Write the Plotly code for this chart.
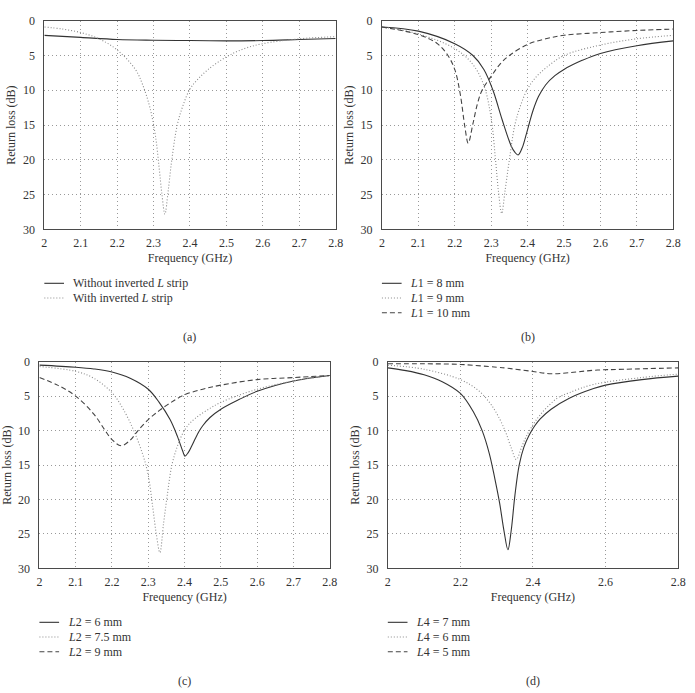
import plotly.graph_objects as go

# ---------- data ----------
# (a)
a_x_solid = [2.0, 2.1, 2.2, 2.3, 2.4, 2.5, 2.6, 2.7, 2.8]
a_y_solid = [2.1, 2.4, 2.7, 2.8, 2.85, 2.9, 2.85, 2.7, 2.55]
a_x_dot = [2.0, 2.05, 2.1, 2.15, 2.2, 2.25, 2.27, 2.29, 2.305, 2.315, 2.323, 2.331, 2.34, 2.35, 2.365, 2.38, 2.4, 2.42, 2.45, 2.5, 2.55, 2.6, 2.7, 2.8]
a_y_dot = [0.9, 1.2, 1.7, 2.6, 4.2, 7.0, 9.2, 12.5, 16.5, 21.0, 25.0, 27.8, 24.5, 20.0, 15.0, 12.3, 9.8, 8.5, 7.0, 5.2, 4.0, 3.3, 2.6, 2.3]

# (b)
b_x_l8 = [2.0, 2.1, 2.2, 2.25, 2.28, 2.305, 2.33, 2.355, 2.365, 2.374, 2.385, 2.395, 2.405, 2.415, 2.43, 2.45, 2.475, 2.5, 2.55, 2.6, 2.7, 2.8]
b_y_l8 = [0.9, 1.5, 3.3, 5.0, 7.0, 10.0, 14.2, 18.0, 18.9, 19.3, 18.3, 16.6, 14.7, 12.9, 10.9, 9.2, 7.9, 7.0, 5.7, 4.7, 3.6, 2.9]
b_x_l9 = [2.0, 2.1, 2.2, 2.25, 2.28, 2.3, 2.312, 2.32, 2.329, 2.338, 2.35, 2.365, 2.38, 2.4, 2.42, 2.45, 2.5, 2.6, 2.7, 2.8]
b_y_l9 = [0.9, 1.9, 4.0, 6.3, 9.3, 14.0, 20.0, 24.5, 27.7, 24.5, 20.0, 15.0, 12.3, 9.8, 8.3, 6.8, 5.0, 3.5, 2.6, 2.1]
b_x_l10 = [2.0, 2.1, 2.15, 2.18, 2.2, 2.215, 2.228, 2.237, 2.25, 2.262, 2.275, 2.3, 2.325, 2.35, 2.4, 2.45, 2.5, 2.6, 2.7, 2.8]
b_y_l10 = [0.9, 2.0, 3.2, 4.9, 7.0, 10.5, 15.3, 17.6, 14.8, 12.0, 10.0, 8.0, 6.2, 5.0, 3.4, 2.6, 2.1, 1.7, 1.4, 1.2]

# (c)
c_x_l6 = [2.0, 2.1, 2.15, 2.2, 2.25, 2.3, 2.33, 2.36, 2.38, 2.395, 2.401, 2.41, 2.42, 2.43, 2.44, 2.45, 2.47, 2.5, 2.55, 2.6, 2.7, 2.8]
c_y_l6 = [0.5, 0.8, 1.05, 1.5, 2.4, 4.0, 5.9, 8.4, 10.8, 13.0, 13.7, 13.2, 12.2, 11.1, 10.1, 9.3, 8.1, 6.9, 5.5, 4.3, 2.8, 2.0]
c_x_l75 = [2.0, 2.1, 2.15, 2.2, 2.23, 2.26, 2.285, 2.3, 2.312, 2.322, 2.332, 2.342, 2.352, 2.365, 2.38, 2.395, 2.41, 2.43, 2.46, 2.5, 2.6, 2.7, 2.8]
c_y_l75 = [0.7, 1.4, 2.4, 4.5, 6.8, 10.0, 13.5, 16.5, 21.0, 25.0, 27.7, 23.5, 19.5, 15.0, 12.3, 10.4, 9.2, 8.2, 7.1, 5.9, 4.0, 2.8, 2.0]
c_x_l9 = [2.0, 2.05, 2.1, 2.15, 2.18, 2.2, 2.225, 2.25, 2.27, 2.3, 2.33, 2.36, 2.4, 2.45, 2.5, 2.6, 2.7, 2.8]
c_y_l9 = [2.3, 3.4, 5.0, 7.6, 9.9, 11.3, 12.2, 11.4, 10.1, 8.4, 7.1, 6.0, 4.8, 4.0, 3.4, 2.6, 2.3, 2.0]

# (d)
d_x_l7 = [2.0, 2.05, 2.1, 2.15, 2.2, 2.235, 2.26, 2.28, 2.295, 2.308, 2.32, 2.331, 2.34, 2.35, 2.362, 2.375, 2.39, 2.405, 2.42, 2.45, 2.5, 2.567, 2.6, 2.7, 2.8]
d_y_l7 = [0.9, 1.3, 1.9, 2.9, 4.6, 7.2, 10.0, 13.4, 17.0, 20.5, 24.5, 27.3, 24.5, 19.5, 15.0, 12.4, 10.6, 9.3, 8.3, 6.9, 5.3, 3.9, 3.4, 2.6, 2.1]
d_x_l6 = [2.0, 2.1, 2.2, 2.25, 2.28, 2.3, 2.323, 2.34, 2.354, 2.368, 2.38, 2.395, 2.42, 2.467, 2.5, 2.567, 2.7, 2.8]
d_y_l6 = [0.5, 1.1, 2.6, 4.2, 5.9, 7.5, 10.0, 12.5, 14.2, 12.5, 11.0, 9.6, 7.7, 5.3, 4.5, 3.3, 2.3, 1.8]
d_x_l5 = [2.0, 2.1, 2.2, 2.3, 2.33, 2.4, 2.449, 2.5, 2.567, 2.65, 2.8]
d_y_l5 = [0.3, 0.3, 0.4, 0.8, 0.95, 1.42, 1.75, 1.6, 1.25, 1.1, 0.9]

a_names = ["Without inverted <i>L</i> strip", "With inverted <i>L</i> strip"]
b_names = ["<i>L</i>1 = 8 mm", "<i>L</i>1 = 9 mm", "<i>L</i>1 = 10 mm"]
c_names = ["<i>L</i>2 = 6 mm", "<i>L</i>2 = 7.5 mm", "<i>L</i>2 = 9 mm"]
d_names = ["<i>L</i>4 = 7 mm", "<i>L</i>4 = 6 mm", "<i>L</i>4 = 5 mm"]
panel_labels = ["(a)", "(b)", "(c)", "(d)"]

x_ticks_fine = [2, 2.1, 2.2, 2.3, 2.4, 2.5, 2.6, 2.7, 2.8]
x_ticks_coarse = [2, 2.2, 2.4, 2.6, 2.8]
y_ticks = [0, 5, 10, 15, 20, 25, 30]

# ---------- styling ----------
W, H = 695, 693
FONT = "Liberation Serif"
FS = 12
STY = {
    "solid": dict(color="#333333", dash="solid", width=1.1),
    "dot": dict(color="#8a8a8a", dash="1px,2px", width=1.1),
    "dash": dict(color="#444444", dash="5px,3px", width=1.1),
}

# panel boxes in pixels: (left, right, top, bottom)
boxes = [(42, 338, 14, 227), (385, 681, 14, 227), (37, 332, 362, 573), (391, 686, 362, 573)]

def px2x(p):
    return p / W

def px2y(p):
    return 1 - p / H

panels = [
    ([(a_x_solid, a_y_solid, "solid"), (a_x_dot, a_y_dot, "dot")], a_names, x_ticks_fine),
    ([(b_x_l8, b_y_l8, "solid"), (b_x_l9, b_y_l9, "dot"), (b_x_l10, b_y_l10, "dash")], b_names, x_ticks_fine),
    ([(c_x_l6, c_y_l6, "solid"), (c_x_l75, c_y_l75, "dot"), (c_x_l9, c_y_l9, "dash")], c_names, x_ticks_fine),
    ([(d_x_l7, d_y_l7, "solid"), (d_x_l6, d_y_l6, "dot"), (d_x_l5, d_y_l5, "dash")], d_names, x_ticks_coarse),
]

fig = go.Figure()
layout = dict(
    width=W, height=H, margin=dict(l=0, r=0, t=0, b=0),
    paper_bgcolor="white", plot_bgcolor="white", showlegend=False,
    font=dict(family=FONT, size=FS, color="#333333"),
)
annotations = []
shapes = []

for i, (series, names, xt) in enumerate(panels):
    n = i + 1
    xa = "x" if n == 1 else f"x{n}"
    ya = "y" if n == 1 else f"y{n}"
    L, R, T, B = boxes[i]
    for (xs, ys, st), name in zip(series, names):
        fig.add_trace(go.Scatter(
            x=xs, y=ys, mode="lines", name=name, xaxis=xa, yaxis=ya,
            line=dict(color=STY[st]["color"], dash=STY[st]["dash"], width=STY[st]["width"],
                      shape="spline", smoothing=1.0),
        ))
    axcommon = dict(showline=True, mirror=True, linecolor="#4a4a4a", linewidth=1,
                    showgrid=True, gridcolor="#999999", griddash="1px,3px", gridwidth=1,
                    zeroline=False, ticks="", tickfont=dict(family=FONT, size=FS, color="#333333"))
    layout["xaxis" if n == 1 else f"xaxis{n}"] = dict(
        axcommon, domain=[px2x(L), px2x(R)], range=[2, 2.8], tickvals=xt,
        ticktext=[f"{v:g}" for v in xt], anchor=ya, ticklabelstandoff=2,
        title=dict(text="Frequency (GHz)", font=dict(family=FONT, size=FS), standoff=4),
    )
    layout["yaxis" if n == 1 else f"yaxis{n}"] = dict(
        axcommon, domain=[px2y(B), px2y(T)], range=[30, 0], tickvals=y_ticks, anchor=xa,
        ticklabelstandoff=6,
        title=dict(text="Return loss (dB)", font=dict(family=FONT, size=FS), standoff=4),
    )
    # legend (manual, below each panel)
    leg_top = B + 55
    for k, ((xs, ys, st), name) in enumerate(zip(series, names)):
        yy = leg_top + 15 * k
        shapes.append(dict(type="line", xref="paper", yref="paper",
                           x0=px2x(L), x1=px2x(L + 20), y0=px2y(yy), y1=px2y(yy),
                           line=dict(color=STY[st]["color"], dash=STY[st]["dash"], width=1.1)))
        annotations.append(dict(xref="paper", yref="paper", x=px2x(L + 27), y=px2y(yy),
                                text=name, showarrow=False, xanchor="left", yanchor="middle",
                                font=dict(family=FONT, size=FS, color="#333333")))
    lab_y = 337 if i < 2 else 688
    annotations.append(dict(xref="paper", yref="paper", x=px2x((L + R) / 2), y=px2y(lab_y),
                            text=panel_labels[i], showarrow=False, xanchor="center", yanchor="middle",
                            font=dict(family=FONT, size=FS, color="#333333")))

layout["annotations"] = annotations
layout["shapes"] = shapes
fig.update_layout(**layout)
fig.write_html("out.html")
